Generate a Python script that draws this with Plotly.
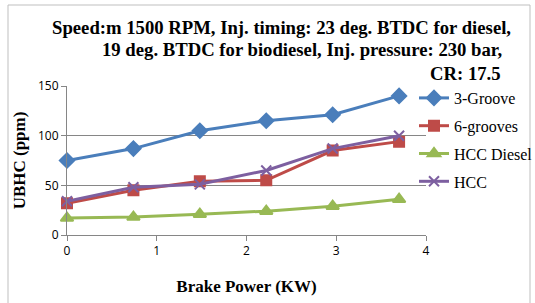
import plotly.graph_objects as go

brake_power = [0, 0.74, 1.48, 2.22, 2.96, 3.7]
groove3 = [75, 87, 105, 115, 121, 140]
grooves6 = [32, 45, 54, 55, 85, 94]
hcc_diesel = [17, 18, 21, 24, 29, 36]
hcc = [34, 48, 51, 65, 87, 100]

title_lines = [
    "Speed:m 1500 RPM, Inj. timing: 23 deg. BTDC for diesel,",
    "19 deg. BTDC for biodiesel, Inj. pressure: 230 bar,",
    "CR: 17.5",
]

W, H = 535, 303
L, R, T, B = 67, 426, 86, 235

def px(x):
    return (x - L) / (R - L)

def py(y):
    return (B - y) / (B - T)

fig = go.Figure()
series = [
    ("3-Groove", groove3, "#4A7EBB", "diamond", 11),
    ("6-grooves", grooves6, "#BE4B48", "square", 10),
    ("HCC Diesel", hcc_diesel, "#98B954", "triangle-up", 11),
    ("HCC", hcc, "#7D5FA0", "x-thin", 10),
]
for name, ys, col, sym, sz in series:
    fig.add_trace(go.Scatter(
        x=brake_power, y=ys, name=name, mode="lines+markers", legendgroup=name,
        line=dict(color=col, width=3),
        marker=dict(symbol=sym, size=sz, color=col, line=dict(color=col, width=2)),
        cliponaxis=False,
    ))

serif = "Liberation Serif"
annotations = [
    dict(text="<b>%s</b>" % title_lines[0], x=px(50), y=py(27), xanchor="left"),
    dict(text="<b>%s</b>" % title_lines[1], x=px(100), y=py(50), xanchor="left"),
    dict(text="<b>%s</b>" % title_lines[2], x=px(503), y=py(73), xanchor="right"),
]
for a in annotations:
    a.update(xref="paper", yref="paper", yanchor="middle", showarrow=False,
             font=dict(family=serif, size=18.7, color="black"))

fig.update_layout(
    width=W, height=H,
    margin=dict(l=L, r=W - R, t=T, b=H - B, autoexpand=False),
    paper_bgcolor="white", plot_bgcolor="white",
    annotations=annotations,
    showlegend=True,
    legend=dict(x=px(414), y=py(81), xanchor="left", yanchor="top",
                font=dict(family=serif, size=16, color="black"),
                bgcolor="rgba(0,0,0,0)", itemwidth=30, tracegroupgap=4),
    shapes=[dict(type="rect", xref="paper", yref="paper",
                 x0=px(8), x1=px(530), y0=py(310), y1=py(5),
                 line=dict(color="#BFBFBF", width=1), fillcolor="rgba(0,0,0,0)", layer="below")],
    xaxis=dict(range=[0, 4], tickvals=[0, 1, 2, 3, 4], showgrid=False, zeroline=False,
               showline=True, linecolor="#868686", linewidth=1, automargin=False,
               ticks="outside", ticklen=5, tickcolor="#868686",
               tickfont=dict(family="Open Sans", size=12, color="black"),
               title=dict(text="<b>Brake Power (KW)</b>", font=dict(family=serif, size=17, color="black"), standoff=21)),
    yaxis=dict(range=[0, 150], tickvals=[0, 50, 100, 150], showgrid=True, gridcolor="#868686", gridwidth=1,
               zeroline=False, showline=True, linecolor="#868686", linewidth=1, automargin=False,
               ticks="outside", ticklen=5, tickcolor="#868686",
               tickfont=dict(family="Open Sans", size=12, color="black"),
               title=dict(text="<b>UBHC (ppm)</b>", font=dict(family=serif, size=17, color="black"), standoff=8)),
)

fig.write_html("out.html", config={"displayModeBar": False},
               post_script="document.body.style.margin='0';")
